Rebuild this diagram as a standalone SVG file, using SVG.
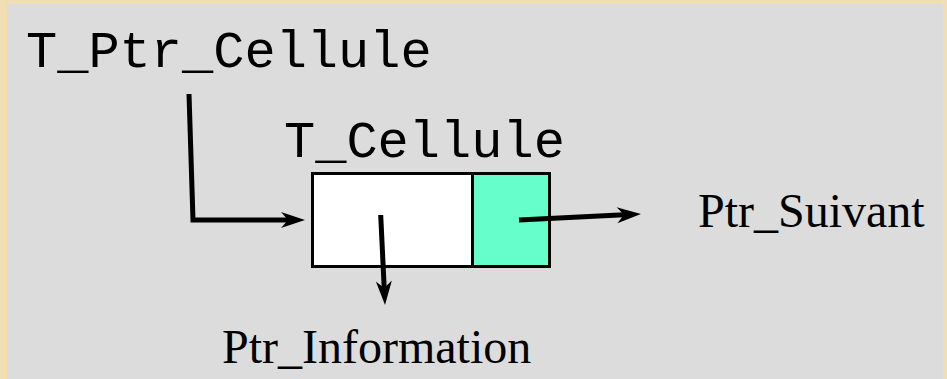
<svg xmlns="http://www.w3.org/2000/svg" width="947" height="379" viewBox="0 0 947 379">
  <style>
    .mono { font-family: "Liberation Mono", "Courier New", monospace; font-size: 52px; fill: #000; }
    .serif { font-family: "Liberation Serif", "Times New Roman", serif; font-size: 48px; fill: #000; }
    .box { stroke: #000; stroke-width: 3; }
    .conn { fill: none; stroke: #000; stroke-width: 5; stroke-linejoin: miter; }
  </style>
  <defs>
    <marker id="arrow" markerUnits="userSpaceOnUse" markerWidth="30" markerHeight="20" refX="0" refY="0" orient="auto" overflow="visible">
      <path d="M-7,-8 L17,0 L-7,8 L0,0 Z" fill="#000"/>
    </marker>
  </defs>
  <rect x="0" y="0" width="947" height="379" fill="#f1deb3"/>
  <rect x="7" y="4" width="936" height="380" fill="#dcdcdc"/>

  <g id="t_ptr_cellule">
    <text class="mono" x="26" y="67">T_Ptr_Cellule</text>
  </g>

  <g id="t_cellule">
    <text class="mono" x="284" y="157">T_Cellule</text>
    <rect class="box" x="312.5" y="173.5" width="160" height="93" fill="#ffffff"/>
    <rect class="box" x="472.5" y="173.5" width="77" height="93" fill="#66ffcc"/>
  </g>

  <g id="ptr_suivant">
    <text class="serif" x="698" y="227">Ptr_Suivant</text>
  </g>

  <g id="ptr_information">
    <text class="serif" x="222" y="363">Ptr_Information</text>
  </g>

  <g id="connectors">
    <polyline class="conn" points="189,94 193,220 288,220" marker-end="url(#arrow)"/>
    <line class="conn" x1="380.7" y1="215" x2="384.2" y2="288" marker-end="url(#arrow)"/>
    <line class="conn" x1="519" y1="220" x2="624" y2="214.8" marker-end="url(#arrow)"/>
  </g>
</svg>
